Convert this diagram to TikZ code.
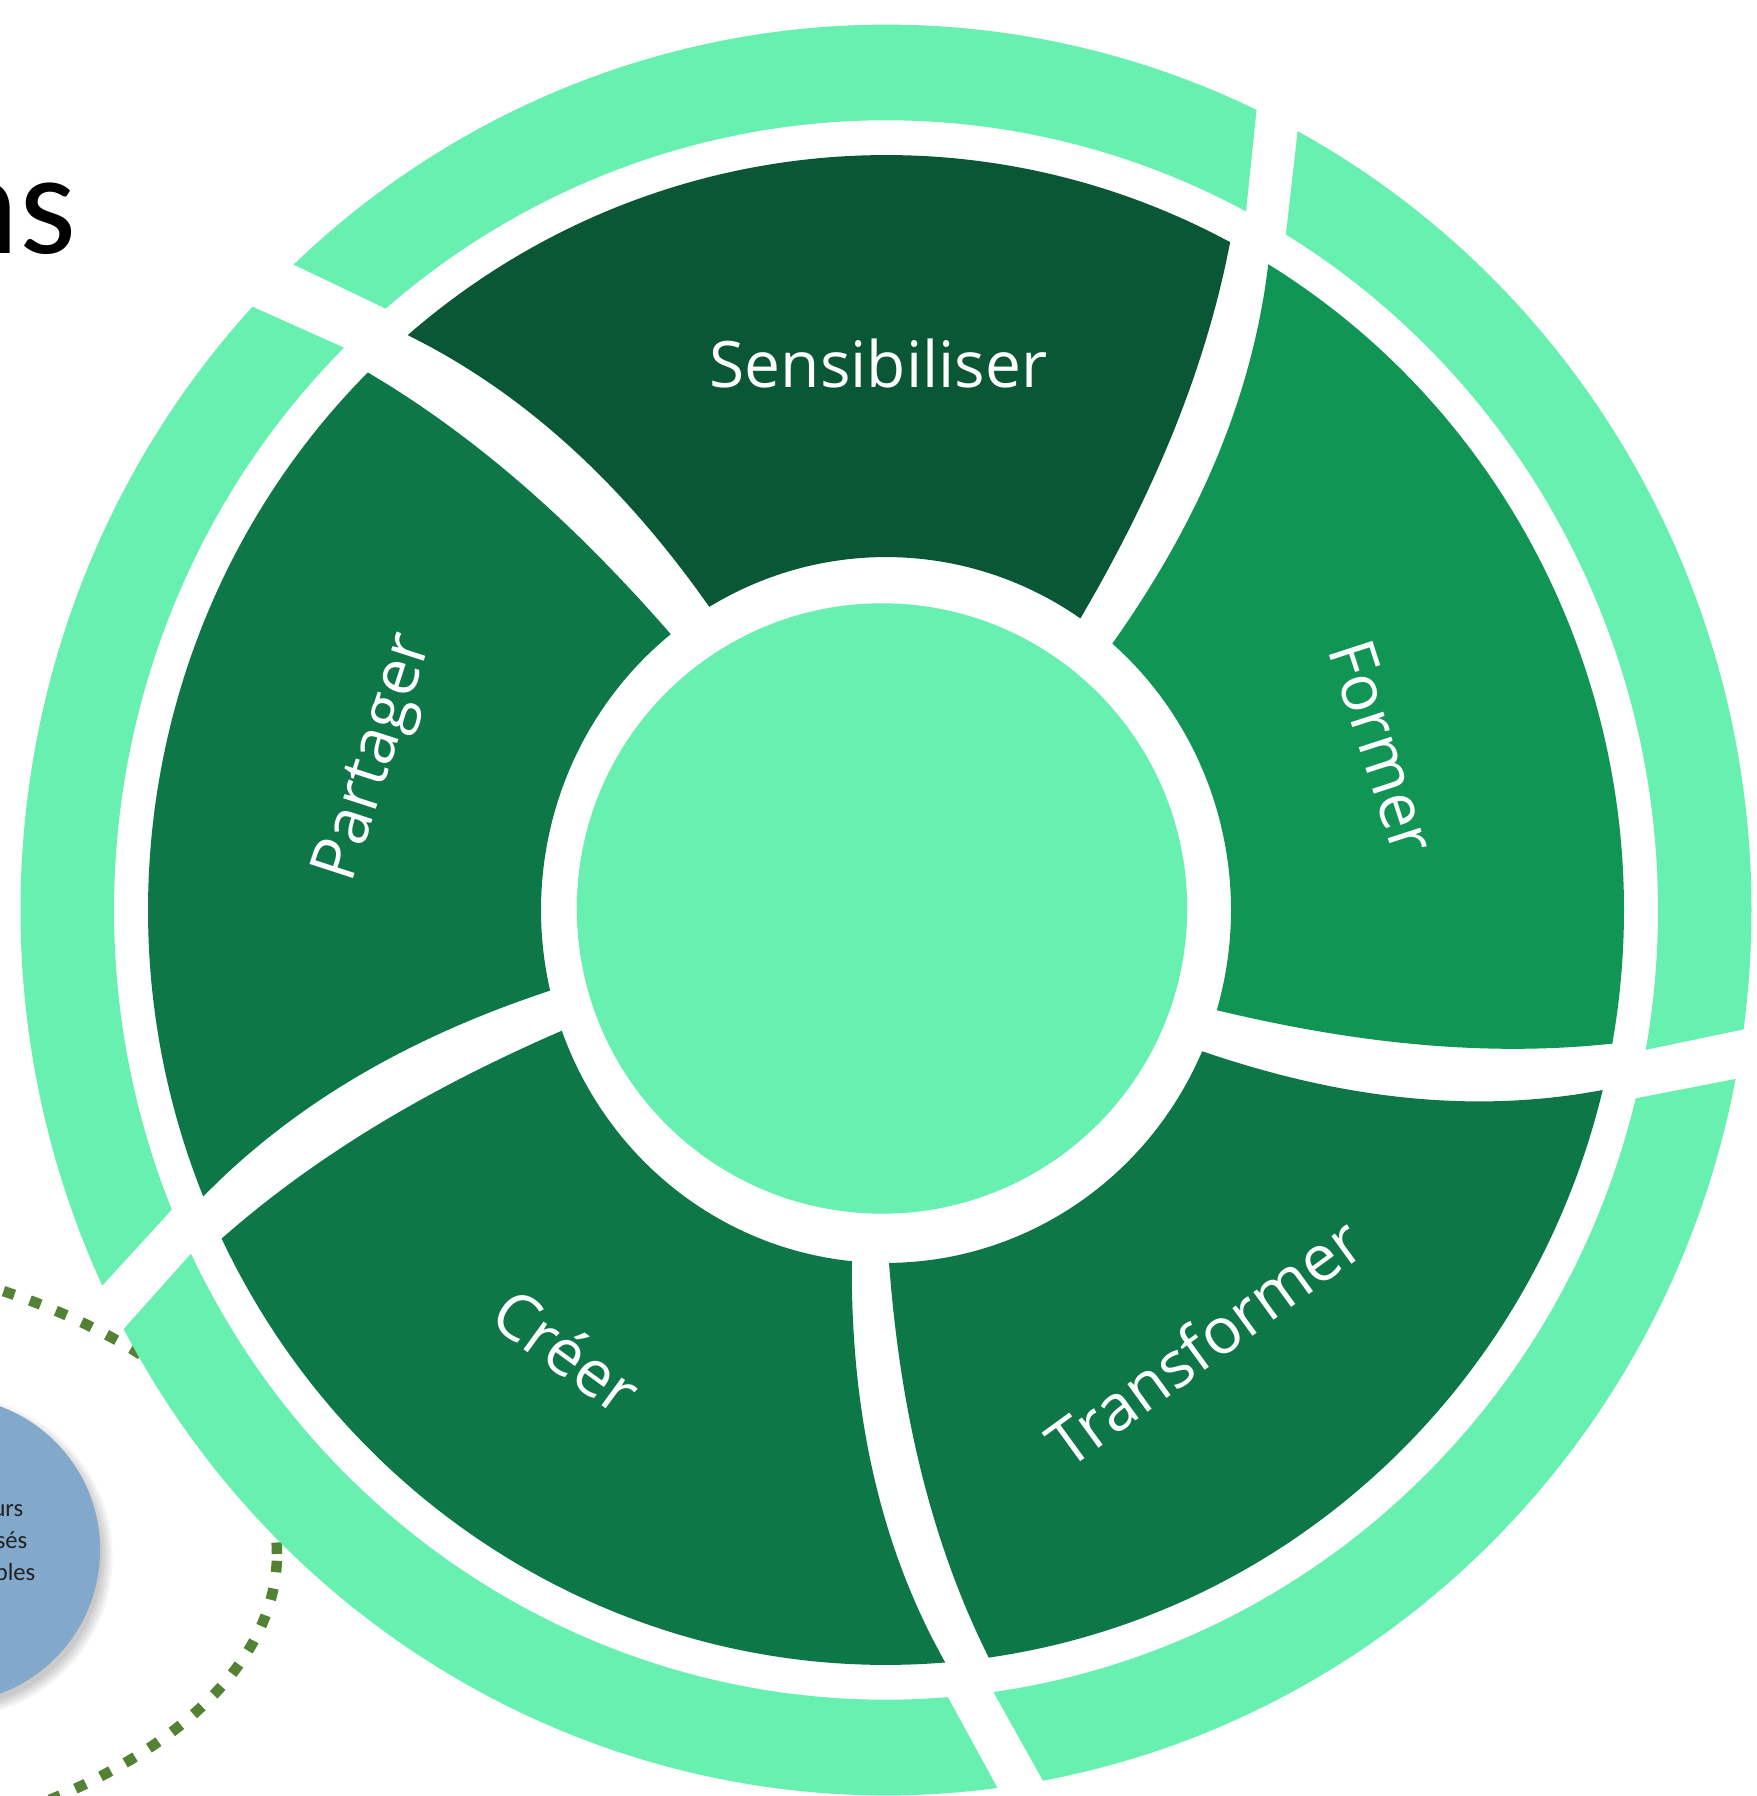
\documentclass[tikz,border=0pt]{standalone}
\usepackage{fontspec}
\setmainfont{Open Sans}
\newfontfamily\calib{Carlito}
\definecolor{lightC}{HTML}{67F0AF}
\definecolor{sensC}{HTML}{0A5736}
\definecolor{formC}{HTML}{109555}
\definecolor{midC}{HTML}{0D7747}
\definecolor{blueC}{HTML}{82A8CC}
\definecolor{dotC}{HTML}{548235}
\definecolor{txtC}{HTML}{222222}
\tikzset{
  lab/.style={text=white, font=\fontsize{18.2}{21}\selectfont, inner sep=0pt, text height=13.1pt, text depth=0pt},
  smalltxt/.style={text=txtC, font=\calib\fontsize{7}{8}\selectfont, inner sep=0pt, anchor=base east},
}
\begin{document}
\begin{tikzpicture}[x=0.01cm,y=0.01cm]
\useasboundingbox (0,0) rectangle (1756,1796);
\fill[white] (0,0) rectangle (1756,1796);
% title fragment
\node[anchor=base east, font=\calib\fontsize{41.4}{45}\selectfont, inner sep=0pt] (title) at (77,1542) {ns};
% dotted ellipse (behind)
\draw[dotC, line width=0.105cm, dash pattern=on 0.115cm off 0.165cm] (-300,242) ellipse[x radius=577, y radius=309];
% blue circle with soft shadow
\foreach \k in {1,...,5}{
  \fill[black, opacity=0.045] (-48,239) circle[radius=148+\k*2.5];
}
\node[circle, fill=blueC, minimum size=3.06cm, inner sep=0pt] (blue) at (-53,246) {};
\node[smalltxt] (t1) at (24,279) {urs};
\node[smalltxt] (t2) at (28,247) {sés};
\node[smalltxt] (t3) at (36,215) {bles};
% rings: phi / colour / CW inner / CW outer / CCW inner / CCW outer (relative angles)
\begin{scope}[shift={(886,886)}, yscale=1.023]
\foreach \p/\c/\ci/\co/\di/\do in {90/sensC/-34.3/-27.8/30.8/40.4, 18/formC/-34.5/-28.2/31.0/40.8, -54/midC/-35.5/-28.0/30.4/40.2, -126/midC/-34.0/-28.2/30.3/40.6, 162/midC/-33.4/-27.4/31.2/40.3}{
  \pgfmathsetmacro\aI{\p+\ci}
  \pgfmathsetmacro\aO{\p+\co}
  \pgfmathsetmacro\aD{\co-\ci}
  \pgfmathsetmacro\bI{\p+\di}
  \pgfmathsetmacro\bO{\p+\do}
  \pgfmathsetmacro\bD{\do-\di}
  \pgfmathsetmacro\cO{\aO+2.45}
  \pgfmathsetmacro\dO{\bO+2.8}
  \fill[\c] plot[variable=\t, domain=0:1, samples=16, smooth] ({\aI+\aD*(0.6*\t+0.4*\t*\t)}:{345+393*\t})
    arc[start angle=\aO, end angle=\bO, radius=738]
    -- plot[variable=\t, domain=0:1, samples=16, smooth] ({\bI+\bD*(0.6*(1-\t)+0.4*(1-\t)*(1-\t))}:{738-393*\t})
    arc[start angle=\bI, end angle=\aI, radius=345] -- cycle;
  \fill[lightC] (\aO:772) -- (\cO:865.5) arc[start angle=\cO, end angle=\dO, radius=865.5]
    -- (\bO:772) arc[start angle=\bO, end angle=\aO, radius=772] -- cycle;
}
\node[lab] (sens) at (90.8:533.7) {Sensibiliser};
\node[lab, rotate=-72] (form) at (17.8:522) {Former};
\node[lab, rotate=36] (trans) at (-53:529.6) {Transformer};
\node[lab, rotate=-36] (creer) at (-126.5:537) {Créer};
\node[lab, rotate=72] (part) at (163.8:538.5) {Partager};
\end{scope}
% hub
\node[circle, fill=lightC, minimum size=6.1cm, inner sep=0pt] (hub) at (882,887.5) {};
\end{tikzpicture}
\end{document}
